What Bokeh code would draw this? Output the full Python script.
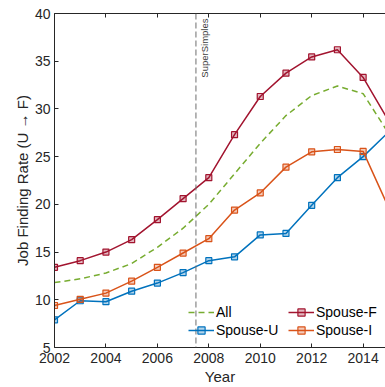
import math
from bokeh.plotting import figure
from bokeh.models import (LinearAxis, Range1d, Span, Label, Legend, LegendItem,
                          FixedTicker, ColumnDataSource)
from bokeh.embed import file_html
from bokeh.resources import INLINE

years = [2002, 2003, 2004, 2005, 2006, 2007, 2008, 2009, 2010, 2011, 2012, 2013, 2014, 2015]
all_rate = [11.8, 12.2, 12.8, 13.8, 15.5, 17.5, 20.0, 23.2, 26.4, 29.3, 31.4, 32.4, 31.6, 27.4]
spouse_f = [13.4, 14.1, 15.0, 16.3, 18.4, 20.6, 22.8, 27.3, 31.3, 33.75, 35.45, 36.2, 33.3, 28.7]
spouse_u = [7.9, 9.9, 9.8, 10.9, 11.75, 12.85, 14.1, 14.5, 16.8, 16.95, 19.9, 22.8, 25.0, 27.6]
spouse_i = [9.4, 10.05, 10.7, 11.95, 13.4, 14.9, 16.4, 19.4, 21.2, 23.9, 25.5, 25.75, 25.55, 19.6]
event_year = 2007.5
event_label = "SuperSimples"
x_ticks = [2002, 2004, 2006, 2008, 2010, 2012, 2014]
y_ticks = [5, 10, 15, 20, 25, 30, 35, 40]

FONT = "Liberation Sans"
AX = "#262626"
C_ALL = "#77AC30"
C_F = "#A2142F"
C_U = "#0072BD"
C_I = "#D95319"

p = figure(width=385, height=387, output_backend="svg", toolbar_location=None,
           x_range=Range1d(2002, 2014.87), y_range=Range1d(5, 40),
           min_border_left=54, min_border_right=0, min_border_top=13, min_border_bottom=40,
           x_axis_location="below")
p.outline_line_color = None
p.xgrid.visible = False
p.ygrid.visible = False
p.background_fill_color = "white"
p.border_fill_color = "white"

def style_axis(ax):
    ax.axis_line_color = AX
    ax.axis_line_width = 1
    ax.major_tick_line_color = AX
    ax.major_tick_in = 4
    ax.major_tick_out = 0
    ax.minor_tick_line_color = None
    ax.major_label_text_font = FONT
    ax.major_label_text_font_size = "14px"
    ax.major_label_text_color = AX
    ax.axis_label_text_font = FONT
    ax.axis_label_text_font_size = "15px"
    ax.axis_label_text_color = AX
    ax.axis_label_text_font_style = "normal"

xa = p.xaxis[0]
xa.ticker = FixedTicker(ticks=x_ticks)
style_axis(xa)
xa.axis_label = "Year"
xa.major_label_standoff = 5
xa.axis_label_standoff = 2

ya = p.yaxis[0]
ya.ticker = FixedTicker(ticks=y_ticks)
style_axis(ya)
ya.axis_label = "Job Finding Rate (U \u2192 F)"
ya.major_label_standoff = 4
ya.axis_label_standoff = 1

top = LinearAxis(ticker=FixedTicker(ticks=x_ticks))
style_axis(top)
top.major_label_overrides = {t: "" for t in x_ticks}
top.major_label_standoff = 0
p.add_layout(top, "above")

src = ColumnDataSource(dict(year=years, all=all_rate, f=spouse_f, u=spouse_u, i=spouse_i))

vline = Span(location=event_year, dimension="height", line_color="#6e6e6e",
             line_width=1, line_dash="6 3")
p.add_layout(vline)
p.add_layout(Label(x=event_year, y=40, text=event_label, angle=math.pi / 2,
                   text_align="right", text_baseline="top", x_offset=3, y_offset=-5,
                   text_font=FONT, text_font_size="9.5px", text_color="#404040"))

r_all = p.line("year", "all", source=src, line_color=C_ALL, line_width=1.5, line_dash="6 4")
items = {}
for key, col in (("f", C_F), ("u", C_U), ("i", C_I)):
    l = p.line("year", key, source=src, line_color=col, line_width=1.5)
    s = p.scatter("year", key, source=src, marker="square", size=6,
                  line_color=col, fill_color=col, fill_alpha=0.3, line_width=1.2)
    items[key] = [l, s]

legend = Legend(items=[
    LegendItem(label="All", renderers=[r_all]),
    LegendItem(label="Spouse-U", renderers=items["u"]),
    LegendItem(label="Spouse-F", renderers=items["f"]),
    LegendItem(label="Spouse-I", renderers=items["i"]),
], ncols=2, location=(134, 8))
legend.border_line_color = None
legend.background_fill_alpha = 0
legend.label_text_font = FONT
legend.label_text_font_size = "14px"
legend.label_text_color = "#000000"
legend.glyph_width = 26
legend.glyph_height = 18
legend.label_standoff = 2
legend.label_width = 72
legend.spacing = 0
legend.padding = 2
legend.margin = 0
legend.label_height = 18
p.add_layout(legend, "center")

open("out.html", "w").write(file_html(p, INLINE))
